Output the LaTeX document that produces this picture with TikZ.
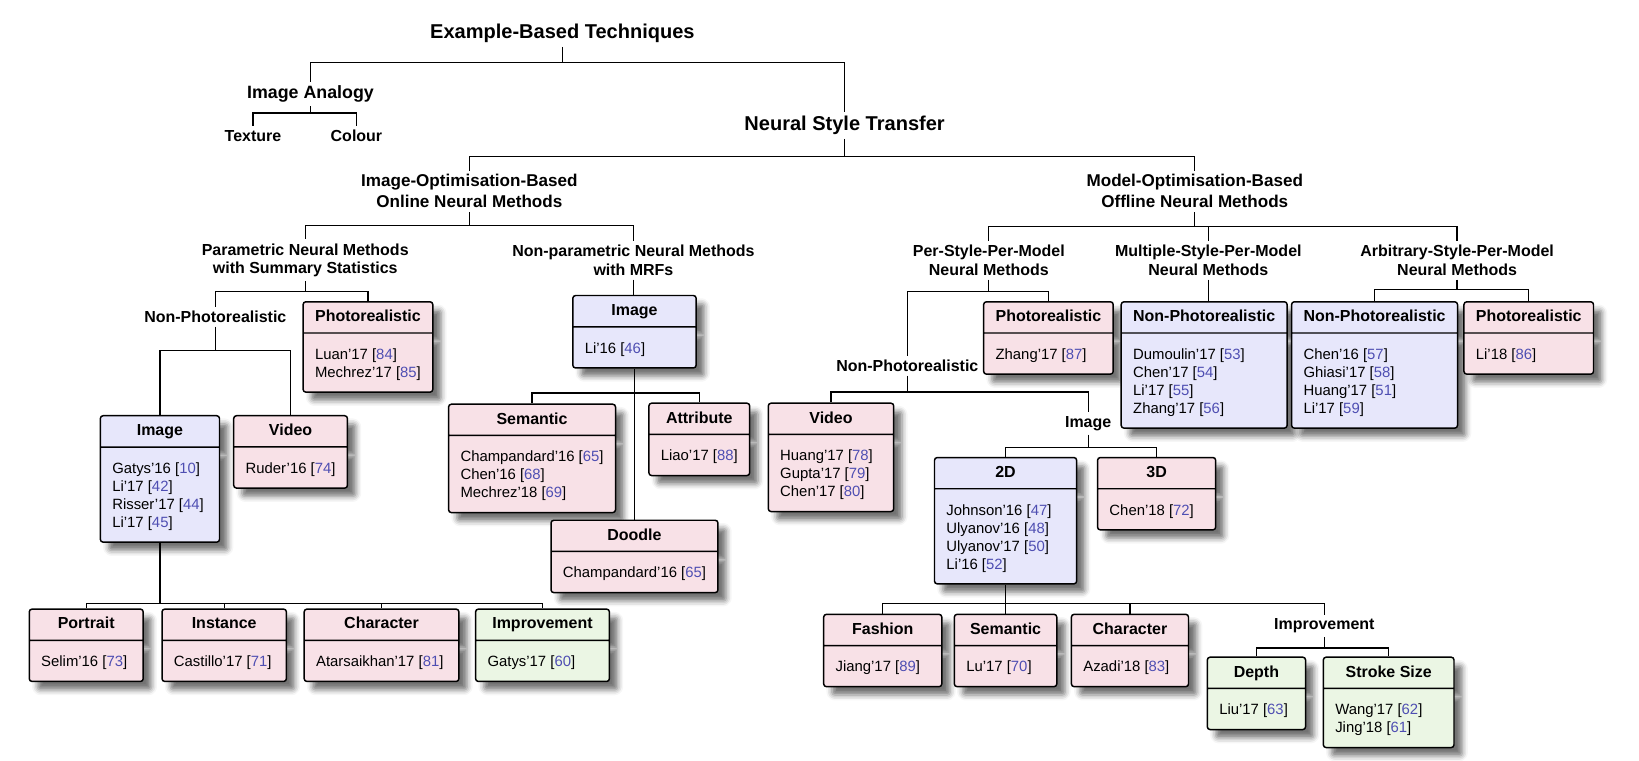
\documentclass[tikz,border=0pt]{standalone}
\usepackage{fontspec}
\setmainfont{Liberation Sans}
\usetikzlibrary{shapes.multipart,shadows.blur}

\definecolor{pinkfill}{RGB}{248,225,231}
\definecolor{lilacfill}{RGB}{231,231,251}
\definecolor{greenfill}{RGB}{235,246,228}
\definecolor{citeblue}{RGB}{78,78,178}

\newcommand{\rf}[1]{[\textcolor{citeblue}{#1}]}
\newcommand{\boxhead}[1]{{\fontsize{8.7}{10}\selectfont\bfseries\rule[-1.8pt]{0pt}{8.2pt}#1}}
\newcommand{\headstrut}{\rule{0pt}{9.9pt}}
\newcommand{\tailstrut}{\rule[-3.7pt]{0pt}{3.7pt}}

\begin{document}
\begin{tikzpicture}
[x=0.02cm, y=-0.02cm, bw/.style={minimum width=#1*0.02cm}]
\tikzstyle{topic}=[inner sep=2pt, align=center, font=\fontsize{10.9}{13}\selectfont\bfseries]
\tikzstyle{subtopic}=[inner sep=2pt, align=center, font=\fontsize{9.7}{11.5}\selectfont\bfseries]
\tikzstyle{branch}=[inner sep=2pt, align=center, font=\fontsize{9.3}{11.4}\selectfont\bfseries]
\tikzstyle{leaf}=[inner sep=2pt, align=center, font=\fontsize{8.7}{10.2}\selectfont\bfseries]
\tikzstyle{catbox}=[rectangle split, rectangle split parts=2, rectangle split part align={center,left}, anchor=north, draw=black, line width=0.8pt, rounded corners=1.5pt, inner xsep=6.5pt, inner ysep=4pt, align=left, text=black, font=\fontsize{8.1}{9.8}\selectfont, blur shadow={shadow xshift=4.5pt, shadow yshift=-4.5pt, shadow blur radius=3pt, shadow opacity=55}]
\tikzstyle{pinkbox}=[catbox, fill=pinkfill]
\tikzstyle{lilacbox}=[catbox, fill=lilacfill]
\tikzstyle{greenbox}=[catbox, fill=greenfill]
\tikzstyle{link}=[line width=0.7pt]

\useasboundingbox (0,0) rectangle (1568,728);

\node[topic]    (ebt)   at (538,32)  {Example-Based Techniques};
\node[subtopic] (ia)    at (297,90)  {Image Analogy};
\node[leaf]     (tex)   at (242,130) {Texture};
\node[leaf]     (col)   at (341,130) {Colour};
\node[topic]    (nst)   at (808,120) {Neural Style Transfer};

\node[branch]   (iob)   at (449,183)  {Image-Optimisation-Based\\Online Neural Methods};
\node[branch]   (mob)   at (1143,183) {Model-Optimisation-Based\\Offline Neural Methods};

\node[leaf]     (pnm)   at (292,249)  {Parametric Neural Methods\\with Summary Statistics};
\node[leaf]     (npm)   at (606,249)  {Non-parametric Neural Methods\\with MRFs};
\node[leaf]     (pspm)  at (946,249)  {Per-Style-Per-Model\\Neural Methods};
\node[leaf]     (mspm)  at (1156,249) {Multiple-Style-Per-Model\\Neural Methods};
\node[leaf]     (aspm)  at (1394,249) {Arbitrary-Style-Per-Model\\Neural Methods};

\node[leaf]     (pnm-np) at (206,303) {Non-Photorealistic};
\node[pinkbox, bw=124]  (pnm-photo) at (352,288) {\boxhead{Photorealistic}\nodepart{two}\headstrut Luan'17 \rf{84}\\Mechrez'17 \rf{85}\tailstrut};
\node[lilacbox, bw=114] (pnm-img)   at (153,397) {\boxhead{Image}\nodepart{two}\headstrut Gatys'16 \rf{10}\\Li'17 \rf{42}\\Risser'17 \rf{44}\\Li'17 \rf{45}\tailstrut};
\node[pinkbox, bw=106]  (pnm-vid)   at (278,397) {\boxhead{Video}\nodepart{two}\headstrut Ruder'16 \rf{74}\tailstrut};
\node[pinkbox, bw=109]  (portrait)  at (82.5,582) {\boxhead{Portrait}\nodepart{two}\headstrut Selim'16 \rf{73}\tailstrut};
\node[pinkbox, bw=119]  (instance)  at (214.5,582) {\boxhead{Instance}\nodepart{two}\headstrut Castillo'17 \rf{71}\tailstrut};
\node[pinkbox, bw=148]  (character) at (365,582) {\boxhead{Character}\nodepart{two}\headstrut Atarsaikhan'17 \rf{81}\tailstrut};
\node[greenbox, bw=128] (improve)   at (519,582) {\boxhead{Improvement}\nodepart{two}\headstrut Gatys'17 \rf{60}\tailstrut};

\node[lilacbox, bw=118] (npm-img)    at (607,282) {\boxhead{Image}\nodepart{two}\headstrut Li'16 \rf{46}\tailstrut};
\node[pinkbox, bw=158]  (mrf-sem)    at (509,386) {\boxhead{Semantic}\nodepart{two}\headstrut Champandard'16 \rf{65}\\Chen'16 \rf{68}\\Mechrez'18 \rf{69}\tailstrut};
\node[pinkbox, bw=96]   (mrf-attr)   at (669,385) {\boxhead{Attribute}\nodepart{two}\headstrut Liao'17 \rf{88}\tailstrut};
\node[pinkbox, bw=159]  (mrf-doodle) at (607,497) {\boxhead{Doodle}\nodepart{two}\headstrut Champandard'16 \rf{65}\tailstrut};

\node[leaf]     (pspm-np)  at (868,350)  {Non-Photorealistic};
\node[pinkbox, bw=118]  (pspm-photo) at (1003,288) {\boxhead{Photorealistic}\nodepart{two}\headstrut Zhang'17 \rf{87}\tailstrut};
\node[pinkbox, bw=120]  (pspm-vid)   at (795,385) {\boxhead{Video}\nodepart{two}\headstrut Huang'17 \rf{78}\\Gupta'17 \rf{79}\\Chen'17 \rf{80}\tailstrut};
\node[leaf]     (pspm-img) at (1041,405) {Image};
\node[lilacbox, bw=136] (d2) at (962,437) {\boxhead{2D}\nodepart{two}\headstrut Johnson'16 \rf{47}\\Ulyanov'16 \rf{48}\\Ulyanov'17 \rf{50}\\Li'16 \rf{52}\tailstrut};
\node[pinkbox, bw=113]  (d3) at (1106.5,437) {\boxhead{3D}\nodepart{two}\headstrut Chen'18 \rf{72}\tailstrut};
\node[pinkbox, bw=113]  (fashion) at (844.5,587) {\boxhead{Fashion}\nodepart{two}\headstrut Jiang'17 \rf{89}\tailstrut};
\node[pinkbox, bw=98]   (ff-sem)  at (962,587)   {\boxhead{Semantic}\nodepart{two}\headstrut Lu'17 \rf{70}\tailstrut};
\node[pinkbox, bw=112]  (ff-char) at (1081,587)  {\boxhead{Character}\nodepart{two}\headstrut Azadi'18 \rf{83}\tailstrut};
\node[leaf]     (ff-imp)   at (1267,599) {Improvement};
\node[greenbox, bw=94]  (depth)  at (1202,628)   {\boxhead{Depth}\nodepart{two}\headstrut Liu'17 \rf{63}\tailstrut};
\node[greenbox, bw=125] (stroke) at (1328.5,628) {\boxhead{Stroke Size}\nodepart{two}\headstrut Wang'17 \rf{62}\\Jing'18 \rf{61}\tailstrut};

\node[lilacbox, bw=146] (mspm-np)    at (1152,288) {\boxhead{Non-Photorealistic}\nodepart{two}\headstrut Dumoulin'17 \rf{53}\\Chen'17 \rf{54}\\Li'17 \rf{55}\\Zhang'17 \rf{56}\tailstrut};
\node[lilacbox, bw=148] (aspm-np)    at (1315,288) {\boxhead{Non-Photorealistic}\nodepart{two}\headstrut Chen'16 \rf{57}\\Ghiasi'17 \rf{58}\\Huang'17 \rf{51}\\Li'17 \rf{59}\tailstrut};
\node[pinkbox, bw=117]  (aspm-photo) at (1462.5,288) {\boxhead{Photorealistic}\nodepart{two}\headstrut Li'18 \rf{86}\tailstrut};

\draw[link] (ebt) -- (ebt |- 0,60) -| (ia) (ebt |- 0,60) -| (nst);
\draw[link] (ia) -- (ia |- 0,108) -| (tex) (ia |- 0,108) -| (col);
\draw[link] (nst) -- (nst |- 0,150) -| (iob) (nst |- 0,150) -| (mob);
\draw[link] (iob) -- (iob |- 0,216) -| (pnm) (iob |- 0,216) -| (npm);
\draw[link] (mob) -- (mob |- 0,217) -| (pspm) (mob |- 0,217) -| (mspm) (mob |- 0,217) -| (aspm);

\draw[link] (pnm) -- (pnm |- 0,279) -| (pnm-np) (pnm |- 0,279) -| (pnm-photo);
\draw[link] (pnm-np) -- (pnm-np |- 0,335) -| (pnm-img) (pnm-np |- 0,335) -| (pnm-vid);
\draw[link] (pnm-img) -- (pnm-img |- 0,577) -| (portrait) (pnm-img |- 0,577) -| (instance) (pnm-img |- 0,577) -| (character) (pnm-img |- 0,577) -| (improve);

\draw[link] (npm) -- (npm |- npm-img.north);
\draw[link] (npm-img) -- (mrf-doodle);
\draw[link] (npm-img |- 0,376) -| (mrf-sem) (npm-img |- 0,376) -| (mrf-attr);

\draw[link] (pspm) -- (pspm |- 0,279) -| (pspm-np) (pspm |- 0,279) -| (pspm-photo);
\draw[link] (pspm-np) -- (pspm-np |- 0,375) -| (pspm-vid) (pspm-np |- 0,375) -| (pspm-img);
\draw[link] (pspm-img) -- (pspm-img |- 0,428) -| (d2) (pspm-img |- 0,428) -| (d3);
\draw[link] (d2) -- (d2 |- 0,577) -| (fashion) (d2 |- 0,577) -| (ff-sem) (d2 |- 0,577) -| (ff-char) (d2 |- 0,577) -| (ff-imp);
\draw[link] (ff-imp) -- (ff-imp |- 0,620) -| (depth) (ff-imp |- 0,620) -| (stroke);

\draw[link] (mspm) -- (mspm |- mspm-np.north);
\draw[link] (aspm) -- (aspm |- 0,277) -| (aspm-np) (aspm |- 0,277) -| (aspm-photo);
\end{tikzpicture}
\end{document}
